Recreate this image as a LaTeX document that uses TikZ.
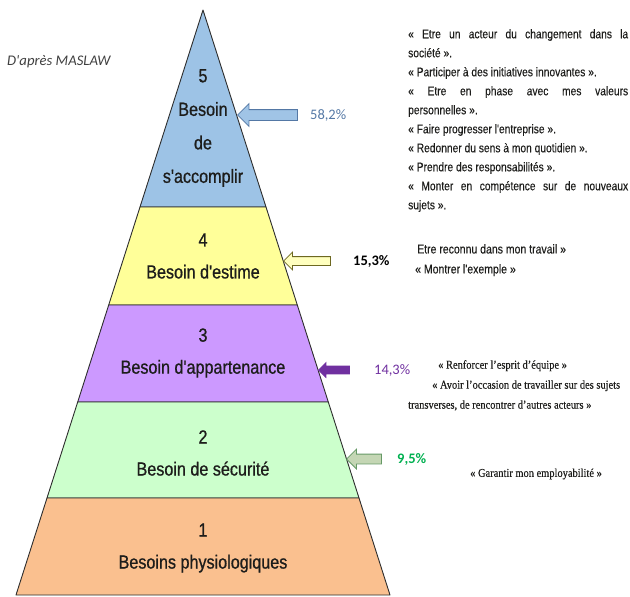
\documentclass[tikz,border=0pt]{standalone}
\usepackage{fontspec}
\setmainfont{Liberation Serif}
\newfontfamily\narrowsans[FakeStretch=0.85,FakeBold=0.8]{Liberation Sans}
\newfontfamily\quotesans[FakeStretch=0.82,FakeBold=0.3]{Liberation Sans}
\newfontfamily\quoteserif[FakeStretch=0.87,FakeBold=0.3]{Liberation Serif}
\newfontfamily\calibri{Carlito}
\usetikzlibrary{positioning,shapes.arrows}
\hyphenpenalty=10000
\definecolor{colorlevelfive} {RGB}{157,195,230}
\definecolor{colorlevelfour} {RGB}{255,255,153}
\definecolor{colorlevelthree}{RGB}{204,153,255}
\definecolor{colorleveltwo}  {RGB}{204,255,204}
\definecolor{colorlevelone}  {RGB}{250,192,143}
\definecolor{colorline}      {RGB}{45 ,45 ,45 }
\definecolor{colortext}      {RGB}{29 ,29 ,27 }
\definecolor{colorcredit}    {RGB}{64 ,64 ,64 }
\definecolor{colorpctfive}   {RGB}{84 ,120,165}
\definecolor{colorpctthree}  {RGB}{112,48 ,160}
\definecolor{colorpcttwo}    {RGB}{0  ,176,80 }
\definecolor{colorarrowfive} {RGB}{160,196,230}
\definecolor{colorarrowfour} {RGB}{255,255,190}
\definecolor{colorarrowtwo}  {RGB}{196,214,180}

\begin{document}
\begin{tikzpicture}[
    x=1pt, y=-1pt,
    band/.style={draw=colorline,line width=0.9pt,line join=round},
    level/.style={text=colortext,font={\narrowsans\fontsize{19}{32}\selectfont},align=center,inner sep=0pt},
    quote/.style={text=colortext,inner sep=0pt,anchor=north west},
    pct/.style={font={\calibri\fontsize{14.5}{16}\selectfont},inner sep=0pt},
    blockarrow/.style={single arrow,shape border rotate=180,inner xsep=0pt,line width=0.8pt,anchor=tip},
]
    \useasboundingbox (0,0) rectangle (630,597);

    % Bands
    \draw[band,fill=colorlevelfive]  (203,10) -- (266,207) -- (140,207) -- cycle;
    \draw[band,fill=colorlevelfour]  (140,207) -- (266,207) -- (297.3,305) -- (108.7,305) -- cycle;
    \draw[band,fill=colorlevelthree] (108.7,305) -- (297.3,305) -- (328.3,402) -- (77.7,402) -- cycle;
    \draw[band,fill=colorleveltwo]   (77.7,402) -- (328.3,402) -- (359,498) -- (47,498) -- cycle;
    \draw[band,fill=colorlevelone]   (47,498) -- (359,498) -- (390,595) -- (16,595) -- cycle;

    % Levels
    \node[level,font={\narrowsans\fontsize{19}{33.5}\selectfont}] (level5) at (203,128) {5\\Besoin\\de\\s'accomplir};
    \node[level] (level4) at (203,256) {4\\Besoin d'estime};
    \node[level] (level3) at (203,353) {3\\Besoin d'appartenance};
    \node[level] (level2) at (203,453) {2\\Besoin de sécurité};
    \node[level] (level1) at (203,548) {1\\Besoins physiologiques};

    \node[anchor=west,inner sep=0pt,text=colorcredit,font={\calibri\itshape\fontsize{14.7}{16}\selectfont}] (credit) at (7,62) {D'après MASLAW};

    % Arrows
    \node[blockarrow,draw=colorpctfive,fill=colorarrowfive,minimum height=60pt,inner ysep=5pt,single arrow head extend=6pt] (arrow5) at (237,115) {};
    \node[blockarrow,draw=olive!70!black,fill=colorarrowfour,minimum height=47pt,inner ysep=4pt,single arrow head extend=4.5pt] (arrow4) at (283,261) {};
    \node[blockarrow,draw=colorpctthree,fill=colorpctthree,minimum height=31pt,inner ysep=3.5pt,single arrow head extend=3.5pt] (arrow3) at (318,370) {};
    \node[blockarrow,draw=gray!80!green,fill=colorarrowtwo,minimum height=35pt,inner ysep=4.5pt,single arrow head extend=5pt] (arrow2) at (346,459) {};

    % Percentages
    \node[pct,text=colorpctfive,right=12pt of arrow5.tail] (pct5) {58,2\%};
    \node[pct,text=black,font={\calibri\bfseries\fontsize{14.5}{16}\selectfont},right=22pt of arrow4.tail] (pct4) {15,3\%};
    \node[pct,text=colorpctthree,right=24pt of arrow3.tail] (pct3) {14,3\%};
    \node[pct,text=colorpcttwo,font={\calibri\bfseries\fontsize{14.5}{16}\selectfont},right=15pt of arrow2.tail] (pct2) {9,5\%};

    % Quotes
    \node[quote,font={\quotesans\fontsize{12.5}{19}\selectfont},text width=220pt,align=justify] (quote5) at (408,29) {%
        «~Etre un acteur du changement dans la\linebreak société~».\\
        «~Participer à des initiatives innovantes~».\\
        «~Etre en phase avec mes valeurs\linebreak personnelles~».\\
        «~Faire progresser l'entreprise~».\\
        «~Redonner du sens à mon quotidien~».\\
        «~Prendre des responsabilités~».\\
        «~Monter en compétence sur de nouveaux\linebreak sujets~».};
    \node[quote,font={\quotesans\fontsize{12.8}{20}\selectfont},align=left] (quote4) at (415,244) {%
        \hspace*{2pt}Etre reconnu dans mon travail~»\\
        «~Montrer l'exemple~»};
    \node[quote,font={\quoteserif\fontsize{12}{20}\selectfont},align=left] (quote3) at (408,360) {%
        \hspace*{30pt}«~Renforcer l’esprit d’équipe~»\\
        \hspace*{24pt}«~Avoir l’occasion de travailler sur des sujets\\
        transverses, de rencontrer d’autres acteurs~»};
    \node[quote,font={\quoteserif\fontsize{12}{20}\selectfont},anchor=west] (quote2) at (470,474) {«~Garantir mon employabilité~»};

\end{tikzpicture}
\end{document}
